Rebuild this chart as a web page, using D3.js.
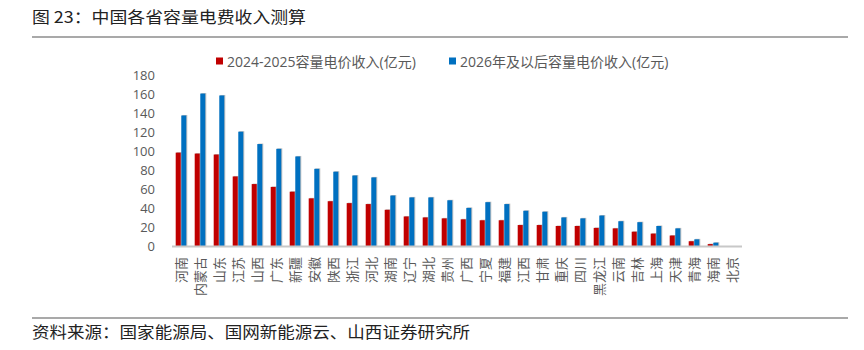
<!DOCTYPE html>
<html>
<head>
<meta charset="utf-8">
<script src="https://cdn.jsdelivr.net/npm/d3@7"></script>
<style>
  body { margin: 0; background: #fff; }
  svg { display: block; font-family: "Open Sans", "Noto Sans CJK SC", sans-serif; }
  .tick-y { font-size: 13px; fill: #595959; }
  .tick-x { font-size: 13px; fill: #595959; font-family: "Noto Sans CJK SC", sans-serif; }
  .legend-text { font-size: 14px; fill: #595959; }
</style>
</head>
<body>
<div id="chart"></div>
<script>
const width = 864, height = 350;

// provinces, left to right
const provinces = ["河南", "内蒙古", "山东", "江苏", "山西", "广东", "新疆", "安徽", "陕西", "浙江",
  "河北", "湖南", "辽宁", "湖北", "贵州", "广西", "宁夏", "福建", "江西", "甘肃",
  "重庆", "四川", "黑龙江", "云南", "吉林", "上海", "天津", "青海", "海南", "北京"];

// 2024-2025 容量电价收入 (亿元)
const rev2425 = [98, 97, 96, 73, 65, 62, 57, 50, 47, 45,
  44, 38, 31, 30, 29, 28, 27, 27, 22, 22,
  21, 21, 19, 18.5, 15, 13, 11, 5, 2, 0];

// 2026年及以后 容量电价收入 (亿元)
const rev2026 = [137, 160, 158, 120, 107, 102, 94, 81, 78, 74,
  72, 53, 51, 51, 48, 40, 46, 44, 37, 36,
  30, 29, 32, 26, 25, 21, 18.5, 7, 3.5, 0];

const seriesNames = ["2024-2025容量电价收入(亿元)", "2026年及以后容量电价收入(亿元)"];
const seriesColors = ["#C00000", "#0070C0"];
const yTicks = [0, 20, 40, 60, 80, 100, 120, 140, 160, 180];

const rows = provinces.map((p, i) => ({ name: p, values: [rev2425[i], rev2026[i]] }));

const svg = d3.select("#chart")
  .append("svg")
  .attr("width", width)
  .attr("height", height);

// Title + rules
svg.append("text")
  .attr("x", 32)
  .attr("y", 23)
  .attr("font-family", "'Noto Sans CJK SC', sans-serif")
  .attr("font-size", 16)
  .attr("fill", "#222")
  .attr("textLength", 274)
  .attr("lengthAdjust", "spacingAndGlyphs")
  .text("图 23：中国各省容量电费收入测算");

svg.append("line")
  .attr("x1", 32).attr("x2", 848)
  .attr("y1", 37).attr("y2", 37)
  .attr("stroke", "#555").attr("stroke-width", 1.2);

svg.append("line")
  .attr("x1", 32).attr("x2", 848)
  .attr("y1", 318).attr("y2", 318)
  .attr("stroke", "#555").attr("stroke-width", 1.2);

svg.append("text")
  .attr("x", 32)
  .attr("y", 338)
  .attr("font-family", "'Noto Sans CJK SC', sans-serif")
  .attr("font-size", 16)
  .attr("fill", "#222")
  .attr("textLength", 438)
  .attr("lengthAdjust", "spacingAndGlyphs")
  .text("资料来源：国家能源局、国网新能源云、山西证券研究所");

// Scales
const x0 = d3.scaleBand()
  .domain(provinces)
  .range([172, 742])
  .paddingInner(0)
  .paddingOuter(0);

const groupWidth = 10.6;
const x1 = d3.scaleBand()
  .domain([0, 1])
  .range([0, groupWidth])
  .paddingInner(0.1);

const y = d3.scaleLinear()
  .domain([0, 180])
  .range([246, 74.5]);

// Y tick labels (no axis line, no gridlines)
svg.append("g")
  .selectAll("text")
  .data(yTicks)
  .join("text")
    .attr("class", "tick-y")
    .attr("x", 155)
    .attr("y", d => y(d))
    .attr("text-anchor", "end")
    .attr("dominant-baseline", "central")
    .text(d => d);

// Bars
const groups = svg.append("g")
  .selectAll("g.prov")
  .data(rows)
  .join("g")
    .attr("class", "prov")
    .attr("transform", d => `translate(${x0(d.name) + (x0.bandwidth() - groupWidth) / 2 - 0.5},0)`);

// faint shadow to the right, like the Excel bars
groups.selectAll("rect.shadow")
  .data(d => d.values.map((v, k) => ({ v, k })))
  .join("rect")
    .attr("class", "shadow")
    .attr("x", d => x1(d.k) + 1)
    .attr("y", d => y(d.v) - 0.5)
    .attr("width", x1.bandwidth())
    .attr("height", d => Math.max(0, y(0) - y(d.v) + 0.5))
    .attr("fill", "#b3b3b3")
    .attr("opacity", d => d.v > 0 ? 0.8 : 0);

groups.selectAll("rect.bar")
  .data(d => d.values.map((v, k) => ({ v, k })))
  .join("rect")
    .attr("class", "bar")
    .attr("x", d => x1(d.k))
    .attr("y", d => y(d.v))
    .attr("width", x1.bandwidth())
    .attr("height", d => y(0) - y(d.v))
    .attr("fill", d => seriesColors[d.k]);

// X axis line
svg.append("line")
  .attr("x1", 172).attr("x2", 742)
  .attr("y1", y(0) + 0.5).attr("y2", y(0) + 0.5)
  .attr("stroke", "#c8c8c8")
  .attr("stroke-width", 2);

// X labels, rotated, reading bottom to top
svg.append("g")
  .selectAll("text")
  .data(provinces)
  .join("text")
    .attr("class", "tick-x")
    .attr("text-anchor", "end")
    .attr("dominant-baseline", "central")
    .attr("transform", d => `translate(${x0(d) + x0.bandwidth() / 2 - 1.5},257) rotate(-90)`)
    .text(d => d);

// Legend
const legendX = [216, 449];
const legend = svg.append("g")
  .selectAll("g")
  .data(seriesNames)
  .join("g")
    .attr("transform", (d, i) => `translate(${legendX[i]},61)`);

legend.append("rect")
  .attr("x", 0).attr("y", -3.5)
  .attr("width", 7).attr("height", 7)
  .attr("fill", (d, i) => seriesColors[i]);

legend.append("text")
  .attr("class", "legend-text")
  .attr("x", 11)
  .attr("y", 0)
  .attr("dominant-baseline", "central")
  .text(d => d);
</script>
</body>
</html>
